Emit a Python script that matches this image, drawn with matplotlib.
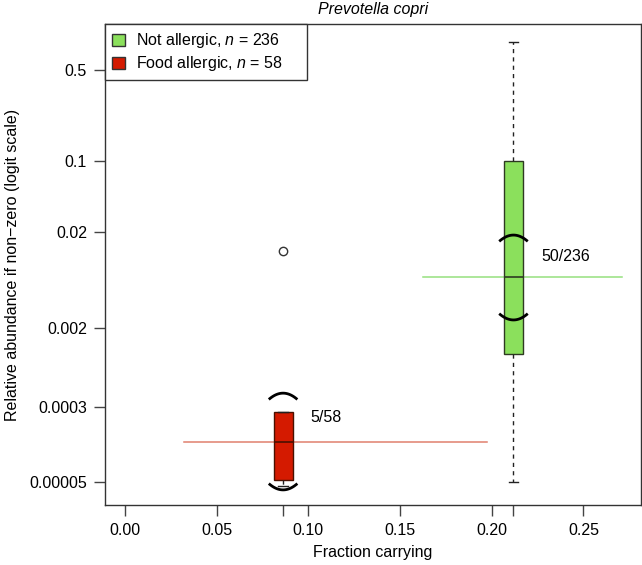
import numpy as np
import matplotlib.pyplot as plt
from matplotlib.patches import Patch
from matplotlib.ticker import NullLocator

plt.rcParams['font.family'] = ['Liberation Sans', 'DejaVu Sans']
plt.rcParams['mathtext.fontset'] = 'custom'
plt.rcParams['mathtext.rm'] = 'Liberation Sans'
plt.rcParams['mathtext.it'] = 'Liberation Sans:italic'

# groups
groups = ["Not allergic", "Food allergic"]
n_total = [236, 58]
n_carry = [50, 5]
frac_ci_lo = [0.1627, 0.0322]
frac_ci_hi = [0.2708, 0.1974]

# abundance distribution of carriers (box stats)
whislo = [0.00005, 0.000045]
q1 = [0.00108, 0.000052]
med = [0.0068, 0.000131]
q3 = [0.1, 0.000265]
whishi = [0.66, 0.000265]
fliers = [[], [0.0127]]
med_ci_lo = [0.00244, 0.000041]
med_ci_hi = [0.0185, 0.00042]

fill_colors = ["#8be05c", "#d41a00"]
edge_colors = ["#2e3a22", "#4a1000"]
line_colors = ["#96e07e", "#e0806e"]

yticks = [0.00005, 0.0003, 0.002, 0.02, 0.1, 0.5]
ytick_labels = ["0.00005", "0.0003", "0.002", "0.02", "0.1", "0.5"]
xticks = [0.0, 0.05, 0.10, 0.15, 0.20, 0.25]
xtick_labels = ["0.00", "0.05", "0.10", "0.15", "0.20", "0.25"]


def logit(p):
    return np.log(p / (1 - p))


def expit(z):
    return 1 / (1 + np.exp(-z))


fig = plt.figure(figsize=(6.42, 5.65), dpi=100)
ax = fig.add_axes([0.1636, 0.1062, 0.8348, 0.8513])
ax.set_yscale('logit')

frac = [c / t for c, t in zip(n_carry, n_total)]
bw = 0.0104

for i in range(len(groups)):
    # fraction CI line at median level
    ax.plot([frac_ci_lo[i], frac_ci_hi[i]], [med[i], med[i]], color=line_colors[i], lw=1.1, zorder=1)

    stats = [dict(whislo=whislo[i], q1=q1[i], med=med[i], q3=q3[i], whishi=whishi[i], fliers=fliers[i])]
    ax.bxp(stats, positions=[frac[i]], widths=bw, patch_artist=True, manage_ticks=False,
           capwidths=0.005,
           boxprops=dict(facecolor=fill_colors[i], edgecolor=edge_colors[i], lw=1),
           medianprops=dict(color=edge_colors[i], lw=1.2),
           whiskerprops=dict(color="#222222", lw=1, linestyle=(0, (3, 3))),
           capprops=dict(color="#222222", lw=1),
           flierprops=dict(marker='o', markersize=6, markerfacecolor='none',
                           markeredgecolor='#333333', markeredgewidth=1),
           zorder=2)

    # median CI arcs
    xs = np.linspace(-1, 1, 30)
    ax.plot(frac[i] + xs * 0.0072, expit(logit(med_ci_hi[i]) - 0.13 * xs ** 2),
            color='black', lw=2, zorder=3)
    ax.plot(frac[i] + xs * 0.0072, expit(logit(med_ci_lo[i]) + 0.13 * xs ** 2),
            color='black', lw=2, zorder=3)

    label_y = expit((logit(med[i]) + logit(med_ci_hi[i])) / 2)
    ax.text(frac[i] + 0.015, label_y, f"{n_carry[i]}/{n_total[i]}", fontsize=11.5,
            va='center', ha='left')

ax.set_xlim(-0.0109, 0.2814)
ax.set_ylim(2.85e-5, 0.7515)
ax.set_yticks(yticks)
ax.set_yticklabels(ytick_labels)
ax.yaxis.set_minor_locator(NullLocator())
ax.set_xticks(xticks)
ax.set_xticklabels(xtick_labels)
ax.set_xticks(frac, minor=True)
ax.tick_params(axis='both', which='both', direction='out', length=8, width=1,
               color='#444444', labelsize=11.5, pad=5)
for s in ax.spines.values():
    s.set_color('#333333')
    s.set_linewidth(1)

ax.set_xlabel("Fraction carrying", fontsize=11.5, labelpad=5)
ax.set_ylabel("Relative abundance if non\u2212zero (logit scale)", fontsize=11.5, labelpad=7)
ax.set_title("Prevotella copri", fontsize=11.5, style='italic', pad=7)

handles = [Patch(facecolor=fill_colors[i], edgecolor='#333333', lw=1) for i in range(2)]
labels = [f"{groups[i]}, $\\it{{n}}$ = {n_total[i]}" for i in range(2)]
leg = ax.legend(handles, labels, loc='upper left', bbox_to_anchor=(0, 1, 0.377, 0),
                mode='expand', borderaxespad=0, fontsize=11.5,
                handlelength=0.8, handleheight=0.8, handletextpad=0.7, fancybox=False,
                framealpha=1, edgecolor='#333333', borderpad=0.45, labelspacing=0.25)
leg.get_frame().set_linewidth(1)

fig.savefig("out.png", dpi=100)
